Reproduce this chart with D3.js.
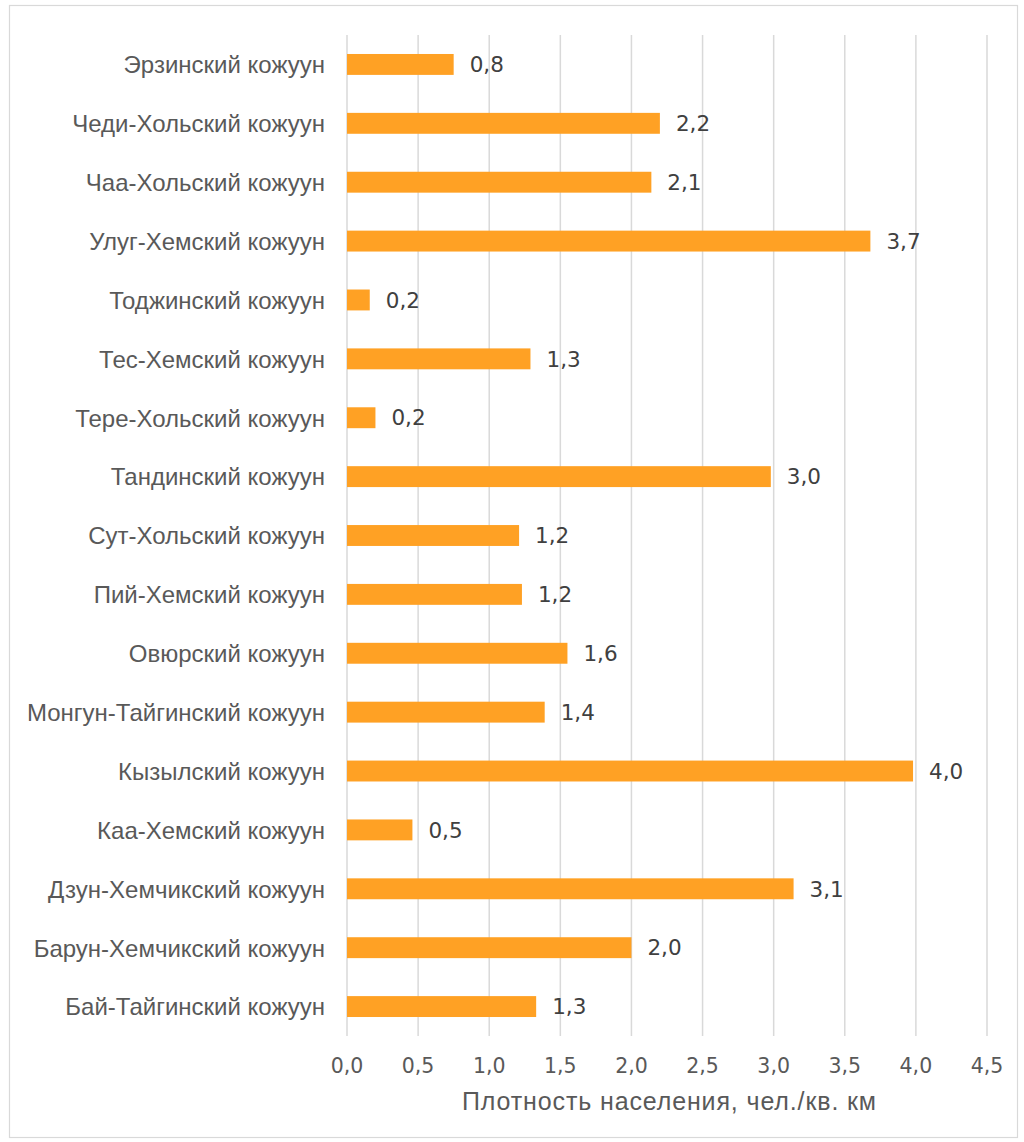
<!DOCTYPE html>
<html>
<head>
<meta charset="utf-8">
<script src="https://cdn.jsdelivr.net/npm/d3@7/dist/d3.min.js"></script>
<style>
  body { margin: 0; background: #fff; }
  svg { display: block; }
</style>
</head>
<body>
<svg id="chart" width="1024" height="1142"></svg>
<script>
// districts, top to bottom as drawn
const districts = [
  'Эрзинский кожуун', 'Чеди-Хольский кожуун', 'Чаа-Хольский кожуун', 'Улуг-Хемский кожуун',
  'Тоджинский кожуун', 'Тес-Хемский кожуун', 'Тере-Хольский кожуун', 'Тандинский кожуун',
  'Сут-Хольский кожуун', 'Пий-Хемский кожуун', 'Овюрский кожуун', 'Монгун-Тайгинский кожуун',
  'Кызылский кожуун', 'Каа-Хемский кожуун', 'Дзун-Хемчикский кожуун', 'Барун-Хемчикский кожуун',
  'Бай-Тайгинский кожуун'
]
const density = [0.75, 2.2, 2.14, 3.68, 0.16, 1.29, 0.2, 2.98, 1.21, 1.23, 1.55, 1.39, 3.98, 0.46, 3.14, 2.0, 1.33]
const xTicks = [0, 0.5, 1, 1.5, 2, 2.5, 3, 3.5, 4, 4.5]
const xTitle = 'Плотность населения, чел./кв. км'

const svg = d3.select('#chart')
const plot = { left: 347, right: 987, top: 35, bottom: 1036 }
const fmt = v => d3.format('.1f')(v).replace('.', ',')

// outer frame
svg.append('rect')
  .attr('x', 9.5).attr('y', 5.5).attr('width', 1008).attr('height', 1132)
  .attr('fill', '#fff').attr('stroke', '#d9d9d9').attr('stroke-width', 1.2)

const x = d3.scaleLinear().domain([0, 4.5]).range([plot.left, plot.right])
const y = d3.scaleBand().domain(districts).range([plot.top, plot.bottom]).paddingInner(0.645).paddingOuter(0.3225)

// gridlines
svg.append('g').selectAll('line')
  .data(xTicks)
  .join('line')
  .attr('x1', d => x(d)).attr('x2', d => x(d))
  .attr('y1', plot.top).attr('y2', plot.bottom)
  .attr('stroke', '#d9d9d9').attr('stroke-width', 1.5)

// bars
svg.append('g').selectAll('rect')
  .data(districts)
  .join('rect')
  .attr('x', x(0))
  .attr('y', d => y(d))
  .attr('width', (d, i) => x(density[i]) - x(0))
  .attr('height', y.bandwidth())
  .attr('fill', '#ffa124')

// value labels
svg.append('g').selectAll('text')
  .data(districts)
  .join('text')
  .attr('x', (d, i) => x(density[i]) + 16)
  .attr('y', d => y(d) + y.bandwidth() / 2)
  .attr('dy', '0.36em')
  .attr('font-family', 'DejaVu Sans, sans-serif')
  .attr('font-size', 21.5)
  .attr('fill', '#404040')
  .text((d, i) => fmt(density[i]))

// category labels
svg.append('g').selectAll('text')
  .data(districts)
  .join('text')
  .attr('x', 325)
  .attr('y', d => y(d) + y.bandwidth() / 2)
  .attr('dy', '0.37em')
  .attr('text-anchor', 'end')
  .attr('font-family', 'Liberation Sans, Arial, sans-serif')
  .attr('font-size', 24)
  .attr('fill', '#595959')
  .text(d => d)

// x tick labels
svg.append('g').selectAll('text')
  .data(xTicks)
  .join('text')
  .attr('x', d => x(d))
  .attr('y', 1066)
  .attr('dy', '0.36em')
  .attr('text-anchor', 'middle')
  .attr('font-family', 'DejaVu Sans, sans-serif')
  .attr('font-size', 20.5)
  .attr('fill', '#595959')
  .text(d => fmt(d))

// axis title
svg.append('text')
  .attr('x', (plot.left + plot.right) / 2 + 2)
  .attr('y', 1101)
  .attr('dy', '0.36em')
  .attr('text-anchor', 'middle')
  .attr('font-family', 'Liberation Sans, Arial, sans-serif')
  .attr('font-size', 25)
  .attr('textLength', 414)
  .attr('fill', '#595959')
  .text(xTitle)
</script>
</body>
</html>
